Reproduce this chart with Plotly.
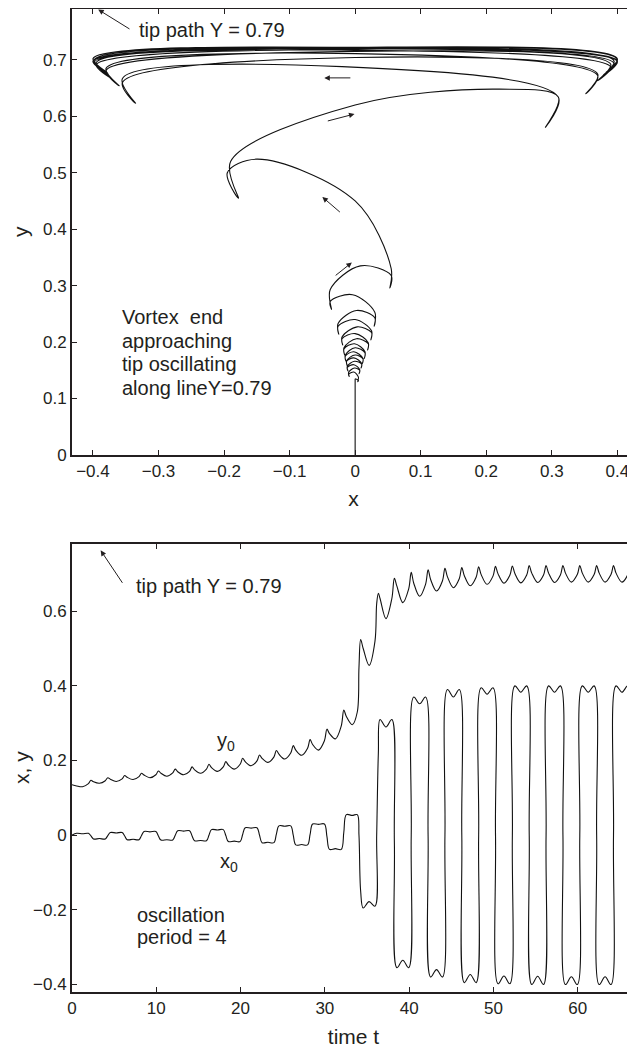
import plotly.graph_objects as go

# ---------------- data ----------------
t_vals = [0.00, 0.55, 1.25, 1.95, 2.25,
          2.55, 3.25, 3.95, 4.25,
          4.55, 5.25, 5.95, 6.25,
          6.55, 7.25, 7.95, 8.25,
          8.55, 9.25, 9.95, 10.25,
          10.55, 11.25, 11.95, 12.25,
          12.55, 13.25, 13.95, 14.25,
          14.55, 15.25, 15.95, 16.25,
          16.55, 17.25, 17.95, 18.25,
          18.55, 19.25, 19.95, 20.25,
          20.55, 21.25, 21.95, 22.25,
          22.55, 23.25, 23.95, 24.25,
          24.55, 25.25, 25.95, 26.25,
          26.55, 27.25, 27.95, 28.25,
          28.55, 29.25, 29.95, 30.25,
          30.55, 31.25, 31.95, 32.25,
          32.55, 33.25, 33.85, 34.05, 34.25,
          34.55, 35.25, 35.95, 36.15, 36.35,
          36.55, 37.25, 37.95, 38.25,
          38.55, 39.25, 39.95, 40.25,
          40.55, 41.25, 41.95, 42.25,
          42.55, 43.25, 43.95, 44.25,
          44.55, 45.25, 45.95, 46.25,
          46.55, 47.25, 47.95, 48.25,
          48.55, 49.25, 49.95, 50.25,
          50.55, 51.25, 51.95, 52.25,
          52.55, 53.25, 53.95, 54.25,
          54.55, 55.25, 55.95, 56.25,
          56.55, 57.25, 57.95, 58.25,
          58.55, 59.25, 59.95, 60.25,
          60.55, 61.25, 61.95, 62.25,
          62.55, 63.25, 63.95, 64.25,
          64.55, 65.25, 65.95, 66.20]

x0_vals = [0.000, 0.005, 0.004, 0.005, -0.002,
           -0.010, -0.009, -0.010, -0.001,
           0.007, 0.006, 0.007, -0.002,
           -0.012, -0.011, -0.012, -0.001,
           0.010, 0.009, 0.010, -0.002,
           -0.013, -0.012, -0.013, 0.000,
           0.012, 0.011, 0.012, -0.002,
           -0.015, -0.014, -0.015, 0.000,
           0.015, 0.014, 0.015, -0.001,
           -0.017, -0.016, -0.017, 0.002,
           0.020, 0.019, 0.020, 0.000,
           -0.020, -0.019, -0.020, 0.003,
           0.025, 0.024, 0.025, 0.000,
           -0.026, -0.025, -0.026, 0.002,
           0.030, 0.029, 0.030, -0.004,
           -0.038, -0.036, -0.038, 0.008,
           0.055, 0.053, 0.055, 0.000, -0.150,
           -0.195, -0.178, -0.190, 0.000, 0.220,
           0.310, 0.290, 0.310, -0.020,
           -0.355, -0.335, -0.355, 0.000,
           0.370, 0.352, 0.370, 0.000,
           -0.380, -0.360, -0.380, 0.000,
           0.390, 0.370, 0.390, 0.000,
           -0.395, -0.373, -0.395, 0.000,
           0.395, 0.378, 0.395, 0.000,
           -0.398, -0.377, -0.398, 0.000,
           0.400, 0.383, 0.400, 0.000,
           -0.400, -0.378, -0.400, 0.000,
           0.400, 0.383, 0.400, 0.000,
           -0.400, -0.379, -0.400, 0.000,
           0.400, 0.383, 0.400, 0.000,
           -0.400, -0.379, -0.400, 0.000,
           0.400, 0.383, 0.400, -0.130]

y0_vals = [0.135, 0.132, 0.130, 0.138, 0.147,
           0.143, 0.139, 0.146, 0.154,
           0.150, 0.144, 0.151, 0.160,
           0.155, 0.149, 0.157, 0.166,
           0.161, 0.154, 0.162, 0.172,
           0.166, 0.158, 0.167, 0.177,
           0.170, 0.162, 0.171, 0.183,
           0.175, 0.166, 0.177, 0.190,
           0.181, 0.171, 0.183, 0.197,
           0.188, 0.177, 0.190, 0.206,
           0.197, 0.186, 0.199, 0.215,
           0.206, 0.195, 0.209, 0.227,
           0.217, 0.204, 0.220, 0.240,
           0.228, 0.214, 0.233, 0.256,
           0.243, 0.228, 0.253, 0.284,
           0.272, 0.258, 0.293, 0.335,
           0.318, 0.296, 0.330, 0.450, 0.524,
           0.500, 0.455, 0.520, 0.620, 0.648,
           0.634, 0.580, 0.634, 0.688,
           0.667, 0.623, 0.660, 0.704,
           0.675, 0.640, 0.672, 0.711,
           0.685, 0.654, 0.681, 0.715,
           0.692, 0.663, 0.687, 0.717,
           0.695, 0.668, 0.691, 0.719,
           0.698, 0.672, 0.694, 0.720,
           0.700, 0.675, 0.696, 0.721,
           0.701, 0.676, 0.697, 0.722,
           0.702, 0.677, 0.697, 0.722,
           0.702, 0.677, 0.697, 0.722,
           0.702, 0.678, 0.698, 0.722,
           0.702, 0.678, 0.698, 0.722,
           0.702, 0.678, 0.698, 0.722,
           0.702, 0.678, 0.698, 0.720]

assert len(t_vals) == len(x0_vals) == len(y0_vals)

# vertical start segment in the x-y plane
stem_x = [0.0, 0.0]
stem_y = [0.0, 0.135]

top_xticks = [-0.4, -0.3, -0.2, -0.1, 0, 0.1, 0.2, 0.3, 0.4]
top_xlabels = ["−0.4", "−0.3", "−0.2", "−0.1", "0", "0.1", "0.2", "0.3", "0.4"]
top_yticks = [0, 0.1, 0.2, 0.3, 0.4, 0.5, 0.6, 0.7]
top_ylabels = ["0", "0.1", "0.2", "0.3", "0.4", "0.5", "0.6", "0.7"]
bot_xticks = [0, 10, 20, 30, 40, 50, 60]
bot_yticks = [-0.4, -0.2, 0, 0.2, 0.4, 0.6]
bot_ylabels = ["−0.4", "−0.2", "0", "0.2", "0.4", "0.6"]

vortex_lines = ["Vortex  end", "approaching", "tip oscillating", "along lineY=0.79"]
period_lines = ["oscillation", "period = 4"]

# ---------------- figure ----------------
# The page body has an 8px default margin, so the figure is 8px smaller than the
# window and every margin is shifted accordingly.
INK = "#231f20"
FONT = "Liberation Sans, Arial, Helvetica, sans-serif"
TICKF = dict(family=FONT, size=17, color=INK)
TITLEF = dict(family=FONT, size=21, color=INK)
LINE = dict(color="#111111", width=1.1, shape="spline", smoothing=1.0)

fig = go.Figure()
fig.add_trace(go.Scatter(x=stem_x, y=stem_y, mode="lines", xaxis="x", yaxis="y",
                         line=dict(color="#111111", width=1.1), hoverinfo="skip"))
fig.add_trace(go.Scatter(x=x0_vals, y=y0_vals, mode="lines", xaxis="x", yaxis="y",
                         line=LINE, hoverinfo="skip"))
fig.add_trace(go.Scatter(x=t_vals, y=y0_vals, mode="lines", xaxis="x2", yaxis="y2",
                         line=LINE, hoverinfo="skip"))
fig.add_trace(go.Scatter(x=t_vals, y=x0_vals, mode="lines", xaxis="x2", yaxis="y2",
                         line=LINE, hoverinfo="skip"))
# invisible traces so that the right-hand tick axes are drawn
fig.add_trace(go.Scatter(x=[None], y=[None], xaxis="x", yaxis="y3", showlegend=False))
fig.add_trace(go.Scatter(x=[None], y=[None], xaxis="x2", yaxis="y4", showlegend=False))

top_dom = [(992 - 455) / 983, 1.0]
bot_dom = [0.0, (992 - 544) / 983]

axis_common = dict(showgrid=False, zeroline=False, ticks="inside", ticklen=5, tickwidth=1,
                   tickcolor=INK, linecolor=INK, linewidth=2, showline=True,
                   tickfont=TICKF, automargin=False)
right_common = dict(side="right", showline=False, showgrid=False, zeroline=False,
                    ticks="inside", ticklen=5, tickwidth=1, tickcolor=INK,
                    showticklabels=False, automargin=False)

fig.update_layout(
    width=627, height=1042,
    margin=dict(l=64, r=0, t=1, b=58, autoexpand=False),
    paper_bgcolor="white", plot_bgcolor="white",
    showlegend=False,
    font=dict(family=FONT, color=INK, size=17),
    xaxis=dict(axis_common, domain=[0, 1], anchor="y", range=[-0.432, 0.427],
               tickvals=top_xticks, ticktext=top_xlabels, mirror="ticks",
               title=dict(text="x", font=TITLEF, standoff=11)),
    yaxis=dict(axis_common, domain=top_dom, anchor="x", range=[0, 0.79],
               tickvals=top_yticks, ticktext=top_ylabels),
    yaxis3=dict(right_common, overlaying="y", anchor="x", range=[0, 0.79], tickvals=top_yticks),
    xaxis2=dict(axis_common, domain=[0, 1], anchor="y2", range=[0, 66.8],
                tickvals=bot_xticks, mirror="ticks",
                title=dict(text="time t", font=TITLEF, standoff=12)),
    yaxis2=dict(axis_common, domain=bot_dom, anchor="x2", range=[-0.42, 0.78],
                tickvals=bot_yticks, ticktext=bot_ylabels),
    yaxis4=dict(right_common, overlaying="y2", anchor="x2", range=[-0.42, 0.78], tickvals=bot_yticks),
)

ANN = dict(family=FONT, size=20, color=INK)
annotations = []


def arrow(xref, yref, head, tail):
    annotations.append(dict(x=head[0], y=head[1], ax=tail[0], ay=tail[1], xref=xref, yref=yref,
                            axref=xref, ayref=yref, text="", showarrow=True, arrowhead=2,
                            arrowsize=1.1, arrowwidth=1, arrowcolor=INK, standoff=0, startstandoff=0))


def label(xref, yref, x, y, text):
    annotations.append(dict(x=x, y=y, xref=xref, yref=yref, text=text, showarrow=False,
                            xanchor="left", yanchor="middle", align="left", font=ANN))


# y-axis titles (rotated), placed in paper coordinates (page pixel -> paper fraction)
PX = lambda px: (px - 72) / 563.0
PY = lambda py: (992 - py) / 983.0
annotations.append(dict(x=PX(21), y=PY(232), xref="paper", yref="paper", text="y",
                        showarrow=False, textangle=-90, font=TITLEF,
                        xanchor="center", yanchor="middle"))
annotations.append(dict(x=PX(21), y=PY(768), xref="paper", yref="paper", text="x, y",
                        showarrow=False, textangle=-90, font=TITLEF,
                        xanchor="center", yanchor="middle"))

# top panel
arrow("x", "y", (-0.392, 0.789), (-0.342, 0.753))
label("x", "y", -0.333, 0.752, "tip path Y = 0.79")
arrow("x", "y", (-0.047, 0.668), (-0.005, 0.668))
arrow("x", "y", (-0.001, 0.604), (-0.044, 0.591))
arrow("x", "y", (-0.050, 0.457), (-0.021, 0.428))
arrow("x", "y", (-0.005, 0.341), (-0.032, 0.316))
for txt, yv in zip(vortex_lines, [0.244, 0.202, 0.161, 0.119]):
    label("x", "y", -0.359, yv, txt)

# bottom panel
arrow("x2", "y2", (3.4, 0.763), (6.1, 0.672))
label("x2", "y2", 7.3, 0.667, "tip path Y = 0.79")
label("x2", "y2", 17.0, 0.252, "y<sub>0</sub>")
label("x2", "y2", 17.3, -0.072, "x<sub>0</sub>")
for txt, yv in zip(period_lines, [-0.214, -0.273]):
    label("x2", "y2", 7.5, yv, txt)

fig.update_layout(annotations=annotations)

fig.write_html("out.html")
